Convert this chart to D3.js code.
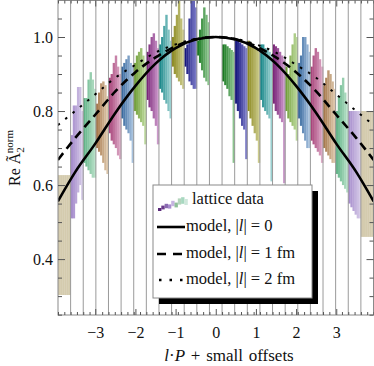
<!DOCTYPE html>
<html>
<head>
<meta charset="utf-8">
<script src="https://cdn.jsdelivr.net/npm/d3@7/dist/d3.min.js"></script>
<style>
  body { margin: 0; background: #fff; }
  svg { display: block; }
  text { font-family: "Liberation Serif", "DejaVu Serif", serif; fill: #111; }
</style>
</head>
<body>
<svg id="chart" width="374" height="366"></svg>
<script>
// group index k, group centre sits at k * pi/10
var groupK = [-12, -11, -10, -9, -8, -7, -6, -5, -4, -3, -2, -1, 0, 1, 2, 3, 4, 5, 6, 7, 8, 9, 10, 11, 12];

// colour per |k| (dark end, light end)
var colorDark  = [null, '#1b7a22', '#16167e', '#8c8a22', '#1e8a8c', '#7a2478', '#72a03a', '#3a6aa0', '#a8447a', '#a87a4e', '#62b488', '#a68ccc', '#d4cbae'];
var colorLight = [null, '#8cc48e', '#7a7ac6', '#cccb8c', '#9ad0d0', '#cc9acb', '#bcd89c', '#a8c2de', '#dcaac6', '#dcc6aa', '#b8e0c8', '#d6cbe8', '#d4cbae'];

// upper / lower edge of each strip inside a group (left -> right)
var stripHi = [
  [0.627, 0.627, 0.627, 0.627, 0.627, 0.627],
  [0.735, 0.815, 0.815, 0.865, 0.865, 0.80],
  [0.835, 0.835, 0.885, 0.905, 0.885, 0.86],
  [0.82, 0.85, 0.875, 0.88, 0.87, 0.84],
  [0.89, 0.90, 0.93, 0.95, 0.92, 0.90],
  [0.92, 0.93, 0.94, 0.95, 0.93, 0.92],
  [0.93, 0.95, 0.96, 0.97, 0.95, 0.93],
  [0.96, 0.98, 1.00, 1.01, 0.99, 0.97],
  [0.98, 1.00, 1.03, 1.06, 1.02, 0.99],
  [1.00, 1.03, 1.06, 1.10, 1.05, 1.02],
  [0.97, 0.98, 1.05, 1.10, 1.10, 1.08],
  [0.99, 1.02, 1.05, 1.08, 1.06, 1.04],
  null,
  [0.98, 0.98, 0.975, 0.97, 0.965, 0.96],
  [0.99, 0.99, 0.985, 0.98, 0.975, 0.97],
  [0.99, 0.985, 0.98, 0.975, 0.97, 0.96],
  [0.98, 0.98, 0.97, 0.965, 0.96, 0.95],
  [0.98, 0.975, 0.97, 0.96, 0.95, 0.94],
  [0.92, 0.90, 0.95, 0.98, 1.01, 1.00],
  [0.93, 0.95, 1.00, 1.00, 0.98, 0.96],
  [0.92, 0.95, 0.97, 0.96, 0.94, 0.92],
  [0.87, 0.89, 0.91, 0.90, 0.88, 0.86],
  [0.80, 0.84, 0.87, 0.89, 0.85, 0.82],
  [0.80, 0.80, 0.80, 0.80, 0.80, 0.80],
  [0.80, 0.80, 0.80, 0.80, 0.80, 0.80]
];
var stripLo = [
  [0.303, 0.303, 0.303, 0.303, 0.303, 0.303],
  [0.51, 0.51, 0.55, 0.58, 0.60, 0.56],
  [0.66, 0.65, 0.64, 0.63, 0.62, 0.62],
  [0.70, 0.69, 0.68, 0.66, 0.64, 0.63],
  [0.74, 0.72, 0.71, 0.70, 0.68, 0.67],
  [0.78, 0.76, 0.75, 0.74, 0.72, 0.66],
  [0.80, 0.79, 0.78, 0.77, 0.76, 0.71],
  [0.83, 0.81, 0.80, 0.78, 0.76, 0.71],
  [0.86, 0.85, 0.83, 0.82, 0.80, 0.78],
  [0.92, 0.90, 0.89, 0.88, 0.87, 0.86],
  [0.92, 0.90, 0.88, 0.87, 0.86, 0.86],
  [0.95, 0.93, 0.91, 0.89, 0.88, 0.87],
  null,
  [0.88, 0.87, 0.86, 0.84, 0.83, 0.66],
  [0.82, 0.80, 0.78, 0.76, 0.75, 0.67],
  [0.80, 0.78, 0.76, 0.74, 0.72, 0.66],
  [0.83, 0.81, 0.80, 0.79, 0.78, 0.61],
  [0.82, 0.80, 0.79, 0.78, 0.77, 0.605],
  [0.80, 0.78, 0.77, 0.76, 0.75, 0.72],
  [0.78, 0.76, 0.74, 0.72, 0.70, 0.70],
  [0.72, 0.71, 0.70, 0.69, 0.68, 0.66],
  [0.70, 0.69, 0.68, 0.67, 0.66, 0.66],
  [0.63, 0.62, 0.61, 0.60, 0.59, 0.58],
  [0.55, 0.54, 0.53, 0.52, 0.51, 0.51],
  [0.46, 0.46, 0.46, 0.46, 0.46, 0.46]
];

// model curves
var curveX  = [-3.93, -3.5, -3, -2.5, -2, -1.5, -1, -0.5, 0, 0.5, 1, 1.5, 2, 2.5, 3, 3.5, 3.93];
var modelL0 = [0.556, 0.635, 0.712, 0.795, 0.868, 0.928, 0.970, 0.993, 1.0, 0.993, 0.970, 0.928, 0.868, 0.795, 0.712, 0.635, 0.556];
var modelL1 = [0.668, 0.727, 0.790, 0.853, 0.905, 0.945, 0.975, 0.994, 1.0, 0.994, 0.975, 0.945, 0.905, 0.853, 0.790, 0.727, 0.668];
var modelL2 = [0.762, 0.800, 0.845, 0.890, 0.925, 0.958, 0.980, 0.995, 1.0, 0.995, 0.980, 0.958, 0.925, 0.890, 0.845, 0.800, 0.762];

var yMajor = [0.4, 0.6, 0.8, 1.0];
var xMajor = [-3, -2, -1, 0, 1, 2, 3];
var legendLabels = ['lattice data', 'model, |l| = 0', 'model, |l| = 1 fm', 'model, |l| = 2 fm'];

(function () {
  var svg = d3.select('#chart');
  var pl = 58, pr = 373.5, pt = 0, pb = 315;
  var step = Math.PI / 10;

  var x = d3.scaleLinear().domain([-12.5 * step, 12.5 * step]).range([pl, pr]);
  var y = d3.scaleLinear().domain([0.249, 1.1]).range([pb, pt]);

  svg.append('defs').append('clipPath').attr('id', 'plotclip')
    .append('rect').attr('x', pl).attr('y', pt).attr('width', pr - pl).attr('height', pb - pt);

  var plot = svg.append('g').attr('clip-path', 'url(#plotclip)');

  // lattice data strips
  groupK.forEach(function (k, gi) {
    var hi = stripHi[gi], lo = stripLo[gi];
    if (!hi) return;
    var a = Math.abs(k);
    var n = hi.length;
    var x0 = x((k - 0.5) * step), x1 = x((k + 0.5) * step);
    var w = (x1 - x0) / n;
    var col = d3.interpolateRgb(colorDark[a], colorLight[a]);
    plot.append('g').selectAll('rect')
      .data(d3.range(n))
      .join('rect')
      .attr('x', function (i) { return x0 + i * w; })
      .attr('y', function (i) { return y(hi[i]); })
      .attr('width', w + 0.3)
      .attr('height', function (i) { return y(lo[i]) - y(hi[i]); })
      .attr('fill', function (i) { return col(n > 1 ? i / (n - 1) : 0); });
  });

  // group separator lines
  plot.append('g').selectAll('line')
    .data(groupK.slice(1))
    .join('line')
    .attr('x1', function (k) { return x((k - 0.5) * step); })
    .attr('x2', function (k) { return x((k - 0.5) * step); })
    .attr('y1', pt).attr('y2', pb)
    .attr('stroke', '#9a9a9a').attr('stroke-width', 1);

  // model curves
  var line = d3.line()
    .x(function (d) { return x(d[0]); })
    .y(function (d) { return y(d[1]); })
    .curve(d3.curveMonotoneX);

  function drawModel(vals, dash, width) {
    plot.append('path')
      .datum(curveX.map(function (v, i) { return [v, vals[i]]; }))
      .attr('d', line)
      .attr('fill', 'none')
      .attr('stroke', '#000')
      .attr('stroke-width', width)
      .attr('stroke-dasharray', dash);
  }
  drawModel(modelL2, '2.5,7', 2);
  drawModel(modelL1, '8.5,5.5', 2.6);
  drawModel(modelL0, null, 2.6);

  // frame and ticks
  svg.append('rect')
    .attr('x', pl).attr('y', pt + 0.5).attr('width', pr - pl).attr('height', pb - pt - 0.5)
    .attr('fill', 'none').attr('stroke', '#8a8a8a').attr('stroke-width', 1);

  var yMinor = d3.range(0.25, 1.1, 0.05).filter(function (v) {
    return yMajor.every(function (m) { return Math.abs(m - v) > 1e-6; });
  });
  var xMinor = d3.range(-25, 26).map(function (i) { return i * step / 2; }).filter(function (v) {
    return xMajor.every(function (m) { return Math.abs(m - v) > 0.03; });
  });

  function styleAxis(g) {
    g.select('.domain').remove();
    g.selectAll('.tick line').attr('stroke', '#555');
    g.selectAll('.tick text').style('font-size', '16px').style('font-family', '"Liberation Serif", serif').attr('fill', '#111');
  }

  svg.append('g').attr('transform', 'translate(' + pl + ',0)')
    .call(d3.axisLeft(y).tickValues(yMajor).tickSize(-7).tickPadding(5).tickFormat(d3.format('.1f')))
    .call(styleAxis);
  svg.append('g').attr('transform', 'translate(' + pl + ',0)')
    .call(d3.axisLeft(y).tickValues(yMinor).tickSize(-4).tickFormat(''))
    .call(styleAxis);
  svg.append('g').attr('transform', 'translate(' + pr + ',0)')
    .call(d3.axisRight(y).tickValues(yMajor).tickSize(-7).tickFormat(''))
    .call(styleAxis);
  svg.append('g').attr('transform', 'translate(' + pr + ',0)')
    .call(d3.axisRight(y).tickValues(yMinor).tickSize(-4).tickFormat(''))
    .call(styleAxis);

  svg.append('g').attr('transform', 'translate(0,' + pb + ')')
    .call(d3.axisBottom(x).tickValues(xMajor).tickSize(-6).tickPadding(12)
      .tickFormat(function (d) { return d < 0 ? '\u2212' + Math.abs(d) : String(d); }))
    .call(styleAxis);
  svg.append('g').attr('transform', 'translate(0,' + pb + ')')
    .call(d3.axisBottom(x).tickValues(xMinor).tickSize(-3).tickFormat(''))
    .call(styleAxis);
  svg.append('g').attr('transform', 'translate(0,' + (pt + 0.5) + ')')
    .call(d3.axisTop(x).tickValues(xMajor).tickSize(-6).tickFormat(''))
    .call(styleAxis);
  svg.append('g').attr('transform', 'translate(0,' + (pt + 0.5) + ')')
    .call(d3.axisTop(x).tickValues(xMinor).tickSize(-3).tickFormat(''))
    .call(styleAxis);

  // axis titles
  var xt = svg.append('text')
    .attr('x', 229).attr('y', 361)
    .attr('text-anchor', 'middle')
    .style('font-size', '17px')
    .style('word-spacing', '1.5px');
  xt.append('tspan').style('font-style', 'italic').text('l');
  xt.append('tspan').text('\u00b7');
  xt.append('tspan').style('font-style', 'italic').text('P');
  xt.append('tspan').text(' + small offsets');

  var yt = svg.append('text')
    .attr('transform', 'translate(20,158) rotate(-90)')
    .attr('text-anchor', 'middle')
    .style('font-size', '16px');
  yt.append('tspan').text('Re ');
  yt.append('tspan').text('\u00c3');
  yt.append('tspan').attr('dy', 4).style('font-size', '11px').text('2');
  yt.append('tspan').attr('dx', -6).attr('dy', -11).style('font-size', '11px').text('norm');

  // legend
  var lg = svg.append('g');
  lg.append('rect').attr('x', 159).attr('y', 191).attr('width', 159).attr('height', 113).attr('fill', '#000');
  lg.append('rect').attr('x', 153).attr('y', 185).attr('width', 159).attr('height', 113)
    .attr('fill', '#fff').attr('stroke', '#8a8a8a').attr('stroke-width', 1);

  var iconHi = [0.0, 0.2, 0.35, 0.3, 0.6, 0.45, 0.8, 0.9, 0.75];
  var iconCol = ['#5a2a7a', '#6a3a8a', '#8a6ab0', '#a68ccc', '#c6b4e0', '#8fbf9a', '#b4d4bc', '#a8d8c0', '#d0e8dc'];
  lg.append('g').selectAll('rect')
    .data(iconHi)
    .join('rect')
    .attr('x', function (d, i) { return 158 + i * 3.3; })
    .attr('y', function (d) { return 208 - d * 12; })
    .attr('width', 3.4)
    .attr('height', function (d) { return 3 + d * 4; })
    .attr('fill', function (d, i) { return iconCol[i]; });

  var ly = [204, 231, 258, 284];
  var legendDash = [null, null, '9,7', '2.5,8'];
  [1, 2, 3].forEach(function (i) {
    lg.append('line')
      .attr('x1', i === 3 ? 159 : 157).attr('x2', 185).attr('y1', ly[i] - 4).attr('y2', ly[i] - 4)
      .attr('stroke', '#000').attr('stroke-width', 2.6)
      .attr('stroke-dasharray', legendDash[i]);
  });
  lg.selectAll('text.leg')
    .data(legendLabels)
    .join('text')
    .attr('class', 'leg')
    .attr('x', function (d, i) { return i === 0 ? 192 : 186; })
    .attr('y', function (d, i) { return ly[i]; })
    .style('font-size', '16.5px')
    .each(function (d) {
      var t = d3.select(this);
      var parts = d.split('|l|');
      t.append('tspan').text(parts[0]);
      if (parts.length > 1) {
        t.append('tspan').text('|');
        t.append('tspan').style('font-style', 'italic').text('l');
        t.append('tspan').text('|' + parts[1]);
      }
    });
})();
</script>
</body>
</html>
